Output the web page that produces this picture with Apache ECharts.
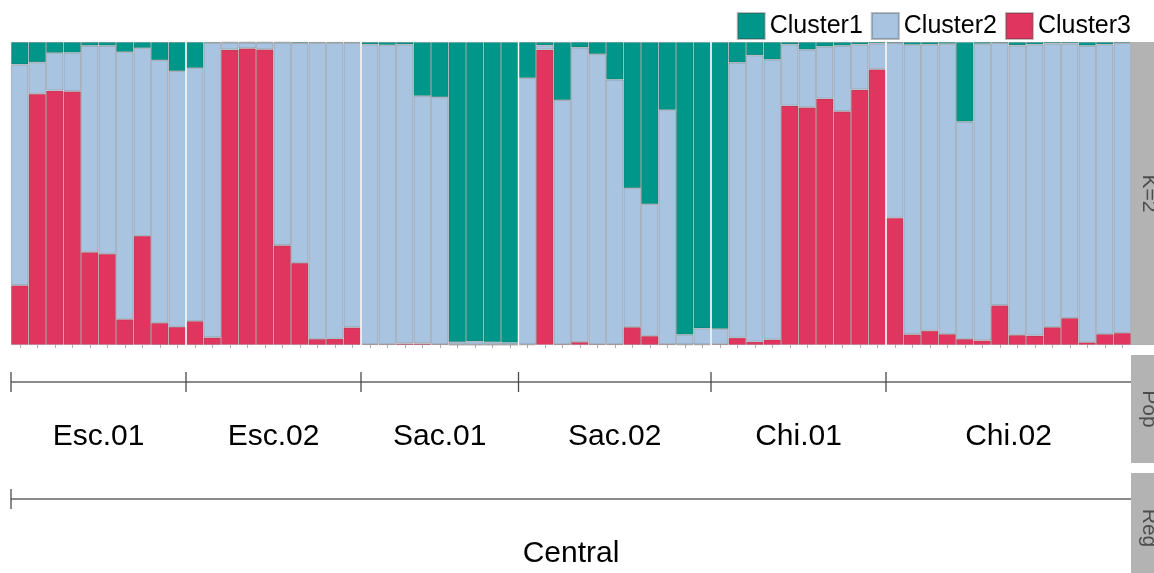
<!DOCTYPE html>
<html>
<head>
<meta charset="utf-8">
<title>Ancestry proportions, K=2</title>
<script src="https://cdn.jsdelivr.net/npm/echarts@6/dist/echarts.min.js"></script>
<style>
  html, body { margin: 0; padding: 0; background: #ffffff; }
  #chart { width: 1154px; height: 573px; }
</style>
</head>
<body>
<div id="chart"></div>
<script>
// Populations in plotting order and the number of individuals in each
const popNames = ['Esc.01', 'Esc.02', 'Sac.01', 'Sac.02', 'Chi.01', 'Chi.02'];
const popSizes = [10, 10, 9, 11, 10, 14];
const regionName = 'Central';
const stripLabels = ['K=2', 'Pop', 'Reg'];

// Membership proportions per individual (Q-matrix columns)
const cluster1 = [
  0.074, 0.067, 0.036, 0.035, 0.012, 0.012, 0.033, 0.020, 0.060, 0.096,
  0.086, 0.003, 0.002, 0.002, 0.002, 0.002, 0.004, 0.003, 0.003, 0.003,
  0.008, 0.010, 0.008, 0.178, 0.182, 0.991, 0.988, 0.991, 0.992,
  0.119, 0.011, 0.192, 0.018, 0.040, 0.124, 0.482, 0.535, 0.224, 0.966, 0.945,
  0.947, 0.068, 0.044, 0.058, 0.008, 0.025, 0.015, 0.012, 0.008, 0.005,
  0.004, 0.009, 0.008, 0.006, 0.263, 0.006, 0.004, 0.011, 0.008, 0.005, 0.005, 0.012, 0.008, 0.004
];
const cluster2 = [
  0.729, 0.104, 0.124, 0.128, 0.681, 0.687, 0.882, 0.620, 0.867, 0.844,
  0.835, 0.972, 0.023, 0.019, 0.022, 0.669, 0.725, 0.977, 0.976, 0.939,
  0.989, 0.987, 0.987, 0.817, 0.815, 0.008, 0.011, 0.008, 0.007,
  0.879, 0.014, 0.805, 0.972, 0.957, 0.873, 0.459, 0.435, 0.773, 0.032, 0.053,
  0.050, 0.908, 0.945, 0.924, 0.202, 0.191, 0.172, 0.217, 0.149, 0.085,
  0.576, 0.956, 0.945, 0.958, 0.717, 0.979, 0.865, 0.956, 0.961, 0.936, 0.906, 0.979, 0.956, 0.956
];
const cluster3 = [
  0.197, 0.829, 0.840, 0.837, 0.307, 0.301, 0.085, 0.360, 0.073, 0.060,
  0.079, 0.025, 0.975, 0.979, 0.976, 0.329, 0.271, 0.020, 0.021, 0.058,
  0.003, 0.003, 0.005, 0.005, 0.003, 0.001, 0.001, 0.001, 0.001,
  0.002, 0.975, 0.003, 0.010, 0.003, 0.003, 0.059, 0.030, 0.003, 0.002, 0.002,
  0.003, 0.024, 0.011, 0.018, 0.790, 0.784, 0.813, 0.771, 0.843, 0.910,
  0.420, 0.035, 0.047, 0.036, 0.020, 0.015, 0.131, 0.033, 0.031, 0.059, 0.089, 0.009, 0.036, 0.040
];

const COLORS = { Cluster1: '#00968a', Cluster2: '#a9c4e0', Cluster3: '#e0355e' };
const FONT = '"Liberation Sans", Arial, Helvetica, sans-serif';

// Individual IDs and population spans [start, end) in individual units
const samples = [];
const popSpans = [];
let offset = 0;
popNames.forEach((name, i) => {
  for (let k = 1; k <= popSizes[i]; k++) samples.push(name + '_' + k);
  popSpans.push([offset, offset + popSizes[i]]);
  offset += popSizes[i];
});
const nTotal = offset;
const popBreaks = popSpans.slice(1).map(s => [s[0]]);
const regionSpans = [[0, nTotal]];

const GRID_LEFT = 11, GRID_RIGHT = 23;

const barStyle = color => ({
  color: color,
  borderColor: 'rgba(70,70,70,0.35)',
  borderWidth: 0.8
});

// Horizontal bracket with a tick at its start and a centred label below
function bracketRenderer(names, labelOffset, fontSize) {
  return function (params, api) {
    const a = api.coord([api.value(0), 0.5]);
    const b = api.coord([api.value(1), 0.5]);
    const y = a[1];
    return {
      type: 'group',
      children: [
        { type: 'line', shape: { x1: a[0], y1: y, x2: b[0], y2: y },
          style: { stroke: '#8a8a8a', lineWidth: 2 } },
        { type: 'line', shape: { x1: a[0], y1: y - 10, x2: a[0], y2: y + 10 },
          style: { stroke: '#4a4a4a', lineWidth: 1.3 } },
        { type: 'text', x: (a[0] + b[0]) / 2, y: y + labelOffset,
          style: { text: names[params.dataIndex], fill: '#000', fontSize: fontSize, fontFamily: FONT,
                   align: 'center', verticalAlign: 'middle' } }
      ]
    };
  };
}

// Grey facet strips on the right edge
function strip(y, h, label) {
  return {
    type: 'group',
    children: [
      { type: 'rect', shape: { x: 1131, y: y, width: 40, height: h }, style: { fill: '#b3b3b3' } },
      { type: 'text', x: 1149, y: y + h / 2, rotation: -Math.PI / 2,
        style: { text: label, fill: '#4d4d4d', fontSize: 21, fontFamily: FONT,
                 align: 'center', verticalAlign: 'middle' } }
    ]
  };
}

const chart = echarts.init(document.getElementById('chart'), null, { renderer: 'canvas' });

chart.setOption({
  animation: false,
  backgroundColor: '#ffffff',
  textStyle: { fontFamily: FONT },
  legend: {
    data: ['Cluster1', 'Cluster2', 'Cluster3'],
    right: GRID_RIGHT, top: 12,
    padding: 0, itemGap: 8,
    itemWidth: 27, itemHeight: 26,
    icon: 'rect',
    textStyle: { fontSize: 25, color: '#000', fontFamily: FONT }
  },
  grid: [
    { left: GRID_LEFT, right: GRID_RIGHT, top: 42, height: 303 },
    { left: GRID_LEFT, right: GRID_RIGHT, top: 372, height: 20 },
    { left: GRID_LEFT, right: GRID_RIGHT, top: 489, height: 20 }
  ],
  xAxis: [
    { type: 'category', gridIndex: 0, data: samples, boundaryGap: true,
      axisLine: { show: false }, axisLabel: { show: false },
      axisTick: { show: true, interval: 0, alignWithLabel: true, length: 3,
                  lineStyle: { color: '#9a9a9a', width: 0.8 } } },
    { type: 'value', gridIndex: 0, min: 0, max: nTotal, show: false },
    { type: 'value', gridIndex: 1, min: 0, max: nTotal, show: false },
    { type: 'value', gridIndex: 2, min: 0, max: nTotal, show: false }
  ],
  yAxis: [
    { type: 'value', gridIndex: 0, min: 0, max: 1, show: false },
    { type: 'value', gridIndex: 1, min: 0, max: 1, show: false },
    { type: 'value', gridIndex: 2, min: 0, max: 1, show: false }
  ],
  series: [
    { name: 'Cluster3', type: 'bar', stack: 'q', data: cluster3, barCategoryGap: '0%',
      itemStyle: barStyle(COLORS.Cluster3), xAxisIndex: 0, yAxisIndex: 0 },
    { name: 'Cluster2', type: 'bar', stack: 'q', data: cluster2, barCategoryGap: '0%',
      itemStyle: barStyle(COLORS.Cluster2), xAxisIndex: 0, yAxisIndex: 0 },
    { name: 'Cluster1', type: 'bar', stack: 'q', data: cluster1, barCategoryGap: '0%',
      itemStyle: barStyle(COLORS.Cluster1), xAxisIndex: 0, yAxisIndex: 0 },
    // white separators between populations
    { type: 'custom', xAxisIndex: 1, yAxisIndex: 0, data: popBreaks, silent: true, z: 5,
      encode: { x: 0 },
      renderItem: function (params, api) {
        const top = api.coord([api.value(0), 1]);
        const bottom = api.coord([api.value(0), 0]);
        return { type: 'line', shape: { x1: top[0], y1: top[1], x2: bottom[0], y2: bottom[1] },
                 style: { stroke: '#ffffff', lineWidth: 1.5 } };
      } },
    // population brackets
    { type: 'custom', xAxisIndex: 2, yAxisIndex: 1, data: popSpans, silent: true, clip: false,
      encode: { x: [0, 1] }, renderItem: bracketRenderer(popNames, 55, 30) },
    // region bracket
    { type: 'custom', xAxisIndex: 3, yAxisIndex: 2, data: regionSpans, silent: true, clip: false,
      encode: { x: [0, 1] }, renderItem: bracketRenderer([regionName], 55, 30) }
  ],
  graphic: [
    strip(42, 303, stripLabels[0]),
    strip(355, 108, stripLabels[1]),
    strip(473, 110, stripLabels[2])
  ]
});
</script>
</body>
</html>
